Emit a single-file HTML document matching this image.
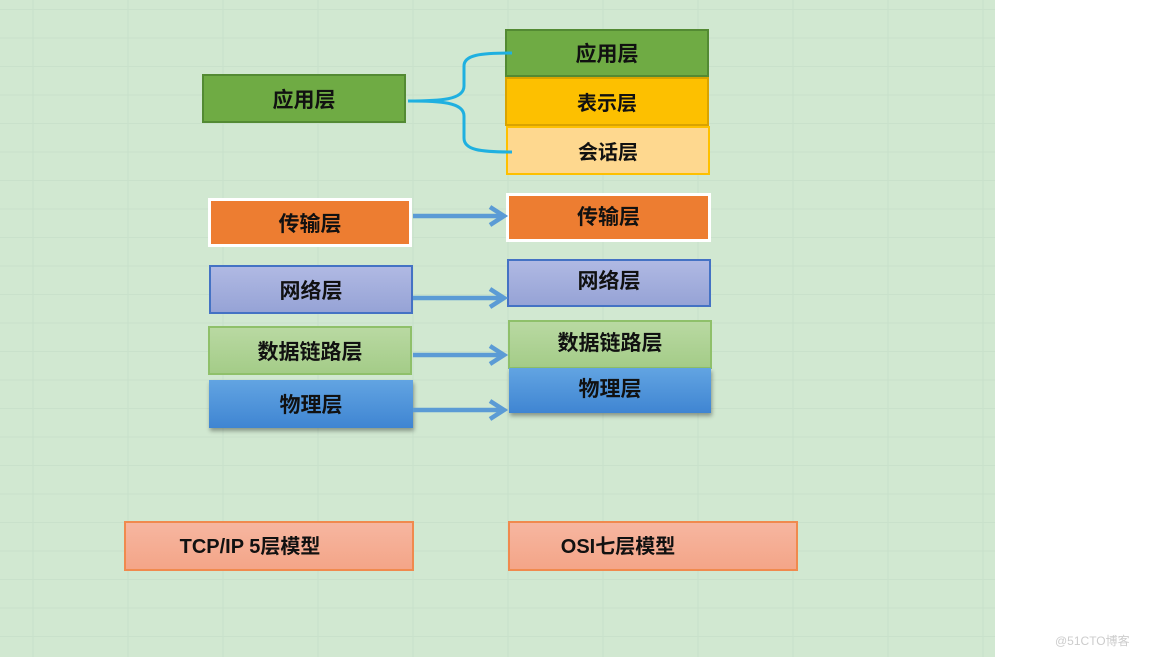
<!DOCTYPE html>
<html><head><meta charset="utf-8"><style>
html,body{margin:0;padding:0;width:1152px;height:657px;overflow:hidden;background:#fff}
#bg{position:absolute;left:0;top:0;width:995px;height:657px;background-color:#d1e8d1;
background-image:linear-gradient(#c9e1cb 1px,transparent 1px),linear-gradient(90deg,#cce4ce 2px,transparent 2px);
background-size:100% 28.5px,95px 100%;background-position:0 9px,32px 0}
.b{position:absolute;box-sizing:border-box;display:flex;align-items:center;justify-content:center;
font-family:"Liberation Sans","Noto Sans CJK SC",sans-serif;font-weight:bold;font-size:21px;color:#111}
.wm{position:absolute;left:1055px;top:632px;font-family:"Liberation Sans","Noto Sans CJK SC",sans-serif;font-size:12px;color:#ccc}
</style></head><body>
<div id="bg"></div>
<div class="b" style="left:202px;top:74px;width:204px;height:49px;background:#6fab44;border:2px solid #538a33">应用层</div>
<div class="b" style="left:505px;top:29px;width:204px;height:48px;background:#6fab44;border:2px solid #538a33">应用层</div>
<div class="b" style="left:505px;top:77px;width:204px;height:49px;background:#fdc000;border:2px solid #d9a300;font-size:20px">表示层</div>
<div class="b" style="left:506px;top:126px;width:204px;height:49px;background:#fed88f;border:2px solid #fec000;font-size:20px">会话层</div>
<div class="b" style="left:208px;top:198px;width:204px;height:49px;background:#ed7d31;border:3px solid #fff">传输层</div>
<div class="b" style="left:506px;top:193px;width:205px;height:49px;background:#ed7d31;border:3px solid #fff;padding-bottom:4px">传输层</div>
<div class="b" style="left:209px;top:265px;width:204px;height:49px;background:linear-gradient(#b0b9e3,#96a3d6);border:2px solid #4472c4">网络层</div>
<div class="b" style="left:507px;top:259px;width:204px;height:48px;background:linear-gradient(#b0b9e3,#96a3d6);border:2px solid #4472c4;padding-bottom:6px">网络层</div>
<div class="b" style="left:208px;top:326px;width:204px;height:49px;background:linear-gradient(#b9d9a2,#a4cc88);border:2px solid #8fc06a">数据链路层</div>
<div class="b" style="left:508px;top:320px;width:204px;height:49px;background:linear-gradient(#b9d9a2,#a4cc88);border:2px solid #8fc06a;padding-bottom:6px">数据链路层</div>
<div class="b" style="left:209px;top:380px;width:204px;height:48px;background:linear-gradient(#62a4e2,#3f85d2);box-shadow:1px 3px 4px rgba(0,0,0,.35)">物理层</div>
<div class="b" style="left:509px;top:368px;width:202px;height:45px;background:linear-gradient(#62a4e2,#3f85d2);box-shadow:1px 3px 4px rgba(0,0,0,.35);padding-bottom:6px">物理层</div>
<div class="b" style="left:124px;top:521px;width:290px;height:50px;background:linear-gradient(#f6b6a0,#f4a588);border:2px solid #f08a4e;font-size:20px;padding-right:38px;padding-bottom:4px">TCP/IP 5层模型</div>
<div class="b" style="left:508px;top:521px;width:290px;height:50px;background:linear-gradient(#f6b6a0,#f4a588);border:2px solid #f08a4e;font-size:20px;padding-right:70px;padding-bottom:4px">OSI七层模型</div>
<svg width="1152" height="657" style="position:absolute;left:0;top:0">
<path d="M408 101 C440 101 464 100 464 86 L464 66 C464 55 480 53 512 53" stroke="#1fb0e0" stroke-width="3" fill="none"/>
<path d="M408 101 C440 101 464 102 464 116 L464 138 C464 150 480 152 512 152" stroke="#1fb0e0" stroke-width="3" fill="none"/>
<g stroke="#5b9bd5" stroke-width="4.5" fill="none" stroke-linejoin="miter">
<path d="M413 216 H504"/><path d="M490 207 L504 216 L490 225"/>
<path d="M413 298 H504"/><path d="M490 289 L504 298 L490 307"/>
<path d="M413 355 H504"/><path d="M490 346 L504 355 L490 364"/>
<path d="M413 410 H504"/><path d="M490 401 L504 410 L490 419"/>
</g></svg>
<div class="wm">@51CTO博客</div>
</body></html>
